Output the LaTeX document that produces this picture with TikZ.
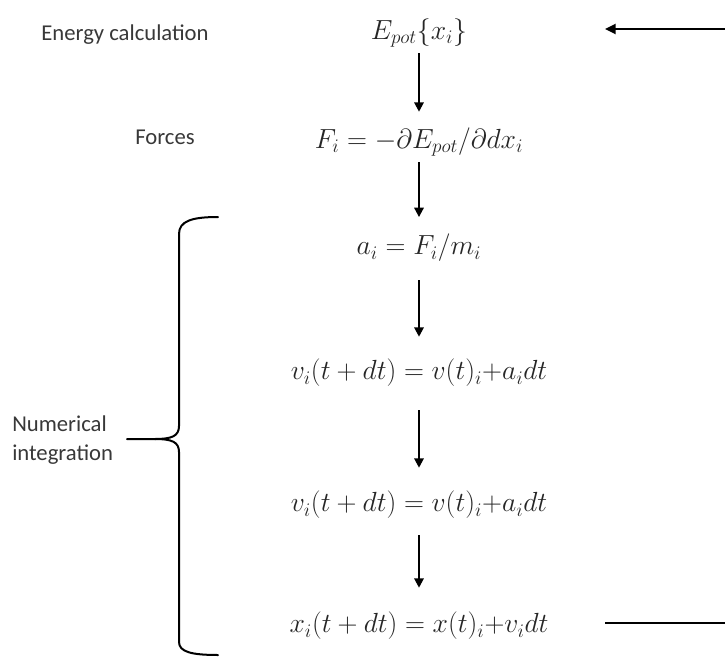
\documentclass[tikz,border=0pt]{standalone}
\usepackage{fontspec}
\setsansfont{Carlito}
\usetikzlibrary{arrows.meta,positioning}

\tikzset{
  lbl/.style={font=\sffamily\fontsize{17}{22}\selectfont, text=black!78, inner sep=0pt},
  eq/.style={font=\fontsize{21}{24}\selectfont, text=black!85, inner sep=0pt, minimum height=30pt},
  flow/.style={line width=1.5pt, -{Triangle[length=7pt,width=7pt]}},
  loopline/.style={line width=1.7pt},
  bracestyle/.style={line width=1.5pt, line cap=round, line join=round}
}

\begin{document}
\begin{tikzpicture}[x=0.75pt,y=-0.75pt]
                    \useasboundingbox (0,0) rectangle (725,657);

                    % Left labels
                    \node[lbl] (ecalc) at (125,35) {Energy calculation};
                    \node[lbl] (flbl) at (165,137) {Forces};
                    \node[lbl, anchor=west, align=left] (numint) at (12,440) {Numerical\\integration};

                    % Chain of equations
                    \node[eq] (epot) at (419,33) {$E_{pot}\{x_i\}$};
                    \node[eq] (force) at (419,142) {$F_i = -\partial E_{pot}/\partial d x_i$};
                    \node[eq] (accel) at (419,248) {$a_i = F_i/m_i$};
                    \node[eq] (vel1) at (419,373) {$v_i(t+dt) = v(t)_i{+}a_i dt$};
                    \node[eq] (vel2) at (419,505) {$v_i(t+dt) = v(t)_i{+}a_i dt$};
                    \node[eq] (pos) at (419,626) {$x_i(t+dt) = x(t)_i{+}v_i dt$};

                    % Arrows down the chain
                    \draw[flow, shorten >=7.5pt] (epot) -- (force);
                    \draw[flow, shorten >=8pt] (force) -- (accel);
                    \draw[flow, shorten <=9pt, shorten >=12pt] (accel) -- (vel1);
                    \draw[flow, shorten <=12.75pt, shorten >=12.75pt] (vel1) -- (vel2);
                    \draw[flow, shorten <=7.5pt, shorten >=13.5pt] (vel2) -- (pos);

                    % Loop back (leaves the picture)
                    \coordinate (loopin) at (725,29);
                    \coordinate (looptip) at (605,29);
                    \coordinate (loopstart) at (605,623);
                    \coordinate (loopout) at (725,623);
                    \draw[loopline, -{Triangle[length=8pt,width=7.5pt]}] (loopin) -- (looptip);
                    \draw[loopline] (loopstart) -- (loopout);

                    % Brace round the integration steps
                    \draw[bracestyle] (218,217) .. controls (192,217) and (179,221) .. (179,234)
                        -- (179,426) .. controls (179,436) and (172,439) .. (155,439) -- (127,439);
                    \draw[bracestyle] (155,439) .. controls (172,439) and (179,442) .. (179,452)
                        -- (179,642) .. controls (179,652) and (192,655) .. (218,655);
                \end{tikzpicture}
\end{document}
